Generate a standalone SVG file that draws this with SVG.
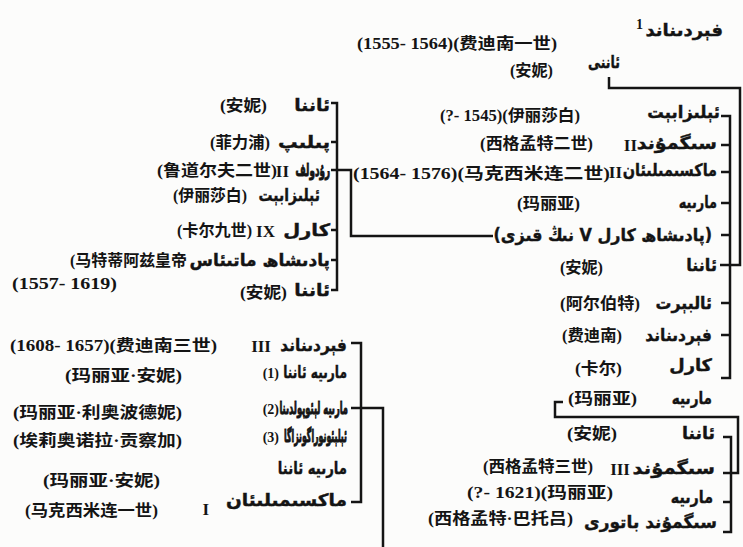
<svg xmlns="http://www.w3.org/2000/svg" width="743" height="547" viewBox="0 0 743 547">
<style>
.bg{fill:#fcfcfb}
.a{font-family:"DejaVu Sans",sans-serif;font-weight:bold;font-size:17px;fill:#141414;stroke:#141414;stroke-width:0.4;text-anchor:end}
.a2{stroke-width:1}
.c{font-family:"Liberation Serif","Noto Sans CJK SC",serif;font-weight:bold;font-size:16px;fill:#141414;text-anchor:end}
.r{font-family:"Liberation Serif",serif;font-weight:bold;font-size:17px;fill:#141414;text-anchor:end}
.n{font-family:"Liberation Serif",serif;font-weight:bold;font-size:14px;fill:#141414;text-anchor:end}
.ln{fill:none;stroke:#141414;stroke-width:2.5;stroke-linejoin:miter}
</style>
<rect class="bg" x="0" y="0" width="743" height="547"/>

<g id="connectors">
<path class="ln" d="M609,77 V88 H740 V265 H720"/>
<path class="ln" d="M721,116 H730 V378 H721 M721,145 H730 M721,172 H730 M721,203 H730 M721,235 H730 M721,303 H730 M721,335 H730"/>
<path class="ln" d="M331,103 H337 V290 H331 M331,142 H337 M331,230 H337 M331,260 H337"/>
<path class="ln" d="M331,170 H351 V236 H493"/>
<path class="ln" d="M351,343 H361 V502 H351"/>
<path class="ln" d="M351,408 H383 V547"/>
<path class="ln" d="M563,402 H555 V417 H738 V473 H723"/>
<path class="ln" d="M723,437 H731 V532 H723 M723,502 H731"/>
</g>

<g id="n-ferdinand1">
<text class="a" transform="translate(723,36) scale(1.06,1)">فېردىناند</text>
<text class="n" x="643" y="29">1</text>
<text class="c" x="557" y="49" textLength="200" lengthAdjust="spacingAndGlyphs">(1555- 1564)(费迪南一世)</text>
</g>
<g id="n-anni">
<text class="a" transform="translate(620,68) scale(0.74,1)">ئاننى</text>
<text class="c" x="553" y="76" textLength="43" lengthAdjust="spacingAndGlyphs">(安妮)</text>
</g>

<g id="r-elisabeth">
<text class="a" transform="translate(720,118) scale(0.97,1)">ئېلىزابېت</text>
<text class="c" x="580" y="121" textLength="140" lengthAdjust="spacingAndGlyphs">(?- 1545)(伊丽莎白)</text>
</g>
<g id="r-sigismund2">
<text class="a" transform="translate(717,149) scale(1.12,1)">سىگمۇند</text>
<text class="r" x="637" y="151">II</text>
<text class="c" x="593" y="149" textLength="113" lengthAdjust="spacingAndGlyphs">(西格孟特二世)</text>
</g>
<g id="r-maximilian2">
<text class="a" transform="translate(717,176) scale(0.85,1)">ماكسىمىلىئان</text>
<text class="r" x="622" y="178">II</text>
<text class="c" x="610" y="179" textLength="257" lengthAdjust="spacingAndGlyphs">(1564- 1576)(马克西米连二世)</text>
</g>
<g id="r-maria">
<text class="a" transform="translate(717,208) scale(0.76,1)">مارىيە</text>
<text class="c" x="580" y="209" textLength="63" lengthAdjust="spacingAndGlyphs">(玛丽亚)</text>
</g>
<g id="r-karl5daughter">
<text class="a" transform="translate(712,241) scale(0.94,1)">&#x202B;(پادىشاھ كارل V نىڭ قىزى)&#x202C;</text>
</g>
<g id="r-anna">
<text class="a" transform="translate(717,271) scale(0.95,1)">ئاننا</text>
<text class="c" x="603" y="273" textLength="43" lengthAdjust="spacingAndGlyphs">(安妮)</text>
</g>
<g id="r-albert">
<text class="a" transform="translate(712,309) scale(0.93,1)">ئالبېرت</text>
<text class="c" x="640" y="309" textLength="80" lengthAdjust="spacingAndGlyphs">(阿尔伯特)</text>
</g>
<g id="r-ferdinand">
<text class="a" transform="translate(712,341) scale(0.91,1)">فېردىناند</text>
<text class="c" x="622" y="341" textLength="60" lengthAdjust="spacingAndGlyphs">(费迪南)</text>
</g>
<g id="r-karl">
<text class="a" transform="translate(712,371) scale(1.05,1)">كارل</text>
<text class="c" x="622" y="374" textLength="47" lengthAdjust="spacingAndGlyphs">(卡尔)</text>
</g>
<g id="r-maria2">
<text class="a" transform="translate(712,404) scale(0.8,1)">مارىيە</text>
<text class="c" x="637" y="404" textLength="69" lengthAdjust="spacingAndGlyphs">(玛丽亚)</text>
</g>

<g id="b-anna">
<text class="a" transform="translate(715,439) scale(1.02,1)">ئاننا</text>
<text class="c" x="617" y="439" textLength="50" lengthAdjust="spacingAndGlyphs">(安妮)</text>
</g>
<g id="b-sigismund3">
<text class="a" transform="translate(715,474) scale(1.15,1)">سىگمۇند</text>
<text class="r" x="630" y="475">III</text>
<text class="c" x="593" y="472" textLength="110" lengthAdjust="spacingAndGlyphs">(西格孟特三世)</text>
</g>
<g id="b-maria">
<text class="a" transform="translate(713,503) scale(0.84,1)">مارىيە</text>
<text class="c" x="613" y="498" textLength="146" lengthAdjust="spacingAndGlyphs">(?- 1621)(玛丽亚)</text>
</g>
<g id="b-bathory">
<text class="a" transform="translate(717,528) scale(1.0,1)">سىگمۇند باتورى</text>
<text class="c" x="573" y="524" textLength="145" lengthAdjust="spacingAndGlyphs">(西格孟特·巴托吕)</text>
</g>

<g id="l-anna">
<text class="a" transform="translate(330,111) scale(1.1,1)">ئاننا</text>
<text class="c" x="267" y="111" textLength="47" lengthAdjust="spacingAndGlyphs">(安妮)</text>
</g>
<g id="l-philipp">
<text class="a" transform="translate(330,148) scale(1.15,1)">پىلىپ</text>
<text class="c" x="270" y="148" textLength="60" lengthAdjust="spacingAndGlyphs">(菲力浦)</text>
</g>
<g id="l-rudolf2">
<text class="a a2" transform="translate(330,176) scale(0.52,1)">رۇدولف</text>
<text class="r" x="289" y="177">II</text>
<text class="c" x="277" y="176" textLength="120" lengthAdjust="spacingAndGlyphs">(鲁道尔夫二世)</text>
</g>
<g id="l-elisabeth">
<text class="a" transform="translate(320,201) scale(0.82,1)">ئېلىزابېت</text>
<text class="c" x="247" y="201" textLength="74" lengthAdjust="spacingAndGlyphs">(伊丽莎白)</text>
</g>
<g id="l-karl9">
<text class="a" transform="translate(330,236) scale(1.15,1)">كارل</text>
<text class="r" x="275" y="237">IX</text>
<text class="c" x="252" y="236" textLength="75" lengthAdjust="spacingAndGlyphs">(卡尔九世)</text>
</g>
<g id="l-matthias">
<text class="a" transform="translate(330,266) scale(1.0,1)">پادىشاھ ماتىئاس</text>
<text class="c" x="187" y="266" textLength="117" lengthAdjust="spacingAndGlyphs">(马特蒂阿兹皇帝</text>
<text class="c" x="117" y="289" textLength="105" lengthAdjust="spacingAndGlyphs">(1557- 1619)</text>
</g>
<g id="l-anna2">
<text class="a" transform="translate(330,296) scale(1.1,1)">ئاننا</text>
<text class="c" x="287" y="298" textLength="47" lengthAdjust="spacingAndGlyphs">(安妮)</text>
</g>

<g id="m-ferdinand3">
<text class="a" transform="translate(347,351) scale(0.91,1)">فېردىناند</text>
<text class="r" x="271" y="352">III</text>
<text class="c" x="217" y="351" textLength="207" lengthAdjust="spacingAndGlyphs">(1608- 1657)(费迪南三世)</text>
</g>
<g id="m-mariaanna1">
<text class="a" transform="translate(347,378) scale(0.72,1)">مارىيە ئاننا</text>
<text class="n" x="279" y="378">(1)</text>
<text class="c" x="182" y="381" textLength="117" lengthAdjust="spacingAndGlyphs">(玛丽亚·安妮)</text>
</g>
<g id="m-marialeopoldina">
<text class="a a2" transform="translate(348,414) scale(0.49,1)">مارىيە لېئوپولدىنا</text>
<text class="n" x="279" y="414">(2)</text>
<text class="c" x="182" y="418" textLength="169" lengthAdjust="spacingAndGlyphs">(玛丽亚·利奥波德妮)</text>
</g>
<g id="m-eleonora">
<text class="a a2" transform="translate(347,442) scale(0.46,1)">ئېلېئونوراگونزاگا</text>
<text class="n" x="279" y="442">(3)</text>
<text class="c" x="182" y="446" textLength="169" lengthAdjust="spacingAndGlyphs">(埃莉奥诺拉·贡察加)</text>
</g>
<g id="m-mariaanna2">
<text class="a" transform="translate(347,474) scale(0.78,1)">مارىيە ئاننا</text>
<text class="c" x="160" y="486" textLength="117" lengthAdjust="spacingAndGlyphs">(玛丽亚·安妮)</text>
</g>
<g id="m-maximilian1">
<text class="a" transform="translate(347,506) scale(1.09,1)">ماكسىمىلىئان</text>
<text class="r" x="209" y="515">I</text>
<text class="c" x="158" y="516" textLength="133" lengthAdjust="spacingAndGlyphs">(马克西米连一世)</text>
</g>
</svg>
